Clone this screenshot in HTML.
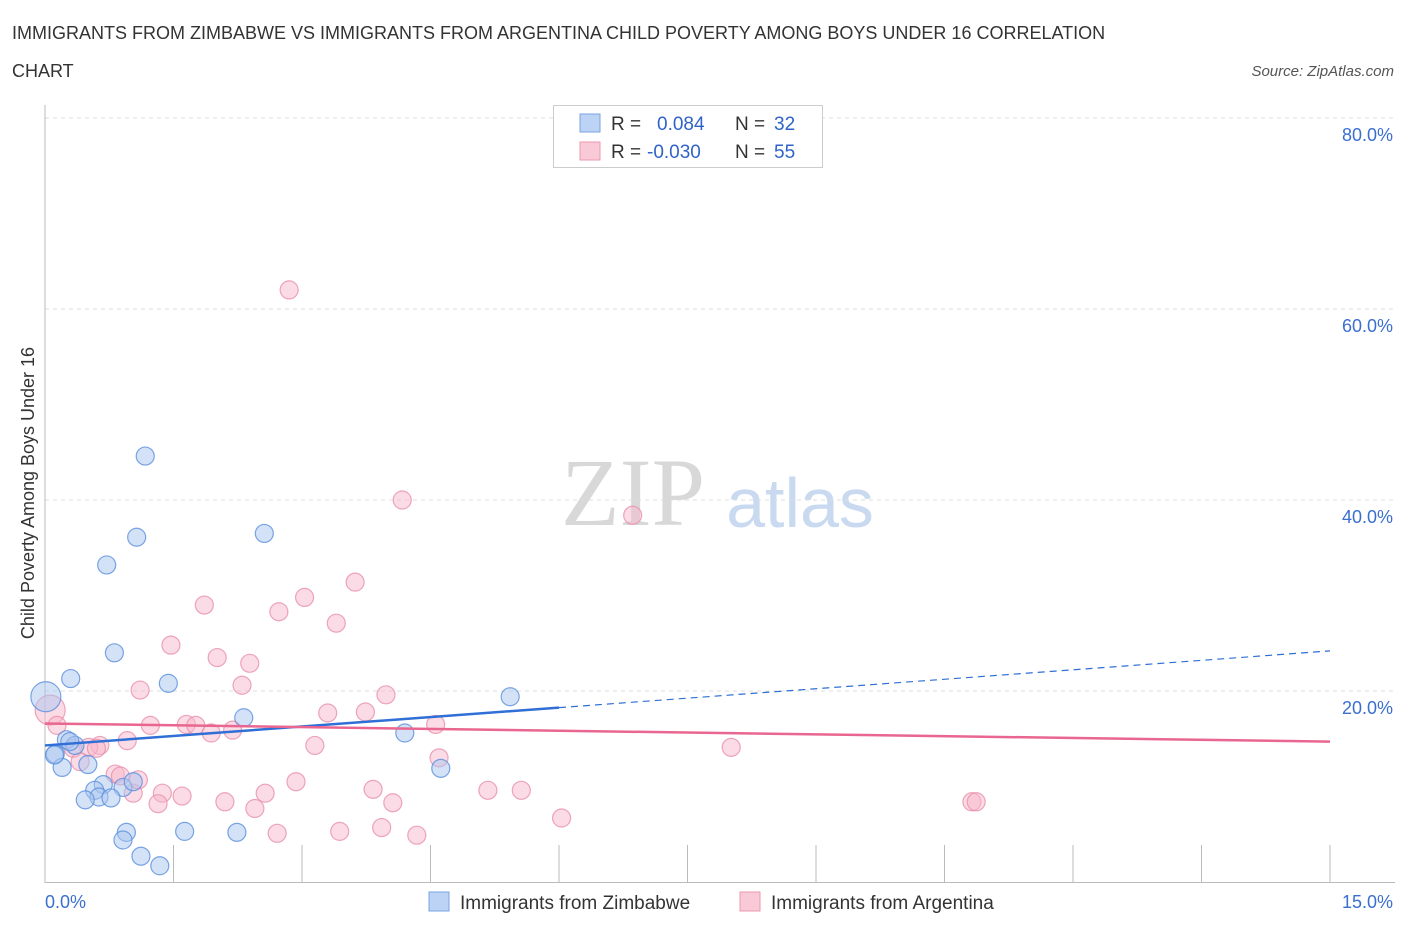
<!DOCTYPE html>
<html><head><meta charset="utf-8"><style>
body{margin:0;background:#fff;font-family:"Liberation Sans",sans-serif;}
svg text{font-family:"Liberation Sans",sans-serif;}
</style></head><body>
<svg id="chart" width="1406" height="930">
<text x="12" y="39" font-size="18" fill="#333">IMMIGRANTS FROM ZIMBABWE VS IMMIGRANTS FROM ARGENTINA CHILD POVERTY AMONG BOYS UNDER 16 CORRELATION</text>
<text x="12" y="77" font-size="18" fill="#333">CHART</text>
<text x="1394" y="76" font-size="15" fill="#555" font-style="italic" text-anchor="end">Source: ZipAtlas.com</text>
<text x="633" y="525" font-size="96" fill="#d8d8d8" font-family="Liberation Serif" text-anchor="middle" style="font-family:'Liberation Serif',serif">ZIP</text>
<text x="800" y="527" font-size="70" fill="#c9daf0" text-anchor="middle">atlas</text>
<g id="grid"></g>
<g id="marks"></g>
<text transform="translate(34,493) rotate(-90)" font-size="18" fill="#333" text-anchor="middle">Child Poverty Among Boys Under 16</text>
<text x="45" y="908" font-size="18" fill="#3a6fd0">0.0%</text>
<text x="1393" y="908" font-size="18" fill="#3a6fd0" text-anchor="end">15.0%</text>
<g>
<rect x="553.5" y="105.5" width="269" height="62" fill="#fff" stroke="#ccc"/>
<rect x="580" y="114" width="20" height="18" fill="#bcd3f5" stroke="#7aa3e0"/>
<rect x="580" y="142" width="20" height="18" fill="#f9c9d7" stroke="#ea9ab2"/>
<text x="611" y="130" font-size="19" fill="#333">R = </text><text x="657" y="130" font-size="19" fill="#2f63c8">0.084</text>
<text x="735" y="130" font-size="19" fill="#333">N = </text><text x="774" y="130" font-size="19" fill="#2f63c8">32</text>
<text x="611" y="158" font-size="19" fill="#333">R = </text><text x="647" y="158" font-size="19" fill="#2f63c8">-0.030</text>
<text x="735" y="158" font-size="19" fill="#333">N = </text><text x="774" y="158" font-size="19" fill="#2f63c8">55</text>
</g>
<g>
<rect x="429" y="892" width="20" height="19" fill="#bcd3f5" stroke="#7aa3e0"/>
<text x="460" y="909" font-size="19" fill="#333">Immigrants from Zimbabwe</text>
<rect x="740" y="892" width="20" height="19" fill="#f9c9d7" stroke="#ea9ab2"/>
<text x="771" y="909" font-size="19" fill="#333">Immigrants from Argentina</text>
</g>
</svg>
<script>
const yTicks=[20,40,60,80];
const yTickLabels=["20.0%","40.0%","60.0%","80.0%"];
const blueX=[0.01,1.17,1.07,0.72,2.56,0.81,0.30,1.44,5.43,2.32,4.20,0.25,0.35,0.12,0.50,0.20,0.91,1.03,0.68,0.58,0.63,0.77,0.47,4.62,0.95,1.63,2.24,0.91,1.12,1.34,0.11,0.29];
const blueY=[19.4,44.6,36.1,33.2,36.5,24.0,21.3,20.8,19.4,17.2,15.6,14.9,14.3,13.4,12.3,12.0,9.9,10.5,10.2,9.6,8.9,8.8,8.6,11.9,5.2,5.3,5.2,4.4,2.7,1.7,13.3,14.7];
const pinkX=[2.85,4.17,6.86,3.62,3.03,1.86,2.73,3.40,1.47,2.01,2.39,1.11,2.30,3.98,0.06,0.14,1.23,1.65,1.76,1.94,2.19,3.30,3.74,4.56,3.15,0.96,0.64,0.51,0.33,0.41,0.82,0.88,1.03,1.37,1.60,1.32,2.10,2.57,2.45,2.93,3.83,4.06,4.60,5.17,5.56,2.71,3.44,3.93,4.34,6.03,8.01,10.82,10.87,0.60,1.09];
const pinkY=[62.0,40.0,38.4,31.4,29.8,29.0,28.3,27.1,24.8,23.5,22.9,20.1,20.6,19.6,18.0,16.4,16.4,16.5,16.4,15.6,15.9,17.7,17.8,16.5,14.3,14.8,14.3,14.1,14.0,12.6,11.3,11.1,9.3,9.3,9.0,8.2,8.4,9.3,7.7,10.5,9.7,8.3,13.0,9.6,9.6,5.1,5.3,5.7,4.9,6.7,14.1,8.4,8.4,14.0,10.7];
const blueTrend=[14.3,24.2];
const pinkTrend=[16.6,14.7];
const NS="http://www.w3.org/2000/svg";
const xs=v=>45+v/15*1285;
const ys=v=>882-v*9.55;
function mk(tag,attrs,parent){const e=document.createElementNS(NS,tag);for(const k in attrs)e.setAttribute(k,attrs[k]);parent.appendChild(e);return e;}
const grid=document.getElementById('grid'),marks=document.getElementById('marks');
yTicks.forEach((t,i)=>{
 const l=mk('line',{x1:45,x2:1395,y1:ys(t),y2:ys(t),stroke:'#ddd','stroke-dasharray':'4,4'},grid);
 
 
 const tx=mk('text',{x:1393,y:ys(t)+23,'font-size':18,fill:'#3a6fd0','text-anchor':'end'},grid);
 tx.textContent=yTickLabels[i];
 
 
});
const ax=mk('line',{x1:45,x2:45,y1:105,y2:883,stroke:'#bbb'},grid);


const bx=mk('line',{x1:45,x2:1395,y1:882.5,y2:882.5,stroke:'#bbb'},grid);


for(let i=1;i<=10;i++){const t=mk('line',{x1:xs(i*1.5),x2:xs(i*1.5),y1:845,y2:882,stroke:'#bbb'},grid);
 
 }
function pts(X,Y,fill,stroke,name){X.forEach((x,i)=>{
 const big=(x<0.1);
 const c=mk('circle',{cx:xs(x),cy:ys(Y[i]),r:big?15:9,fill:fill,'fill-opacity':0.5,stroke:stroke,'stroke-width':1.2,'stroke-opacity':0.8},marks);
 
 
});}
pts(pinkX,pinkY,'#f7b8cb','#e890ab','argentina-point');
pts(blueX,blueY,'#a9c6f0','#5a8fdc','zimbabwe-point');
const bt=v=>blueTrend[0]+(blueTrend[1]-blueTrend[0])*v/15;
const b1=mk('line',{x1:xs(0),y1:ys(bt(0)),x2:xs(6),y2:ys(bt(6)),stroke:'#2f6fd6','stroke-width':2.5},marks);


const b2=mk('line',{x1:xs(6),y1:ys(bt(6)),x2:xs(15),y2:ys(bt(15)),stroke:'#2f6fd6','stroke-width':1.2,'stroke-dasharray':'7,5'},marks);


const p1=mk('line',{x1:xs(0),y1:ys(pinkTrend[0]),x2:xs(15),y2:ys(pinkTrend[1]),stroke:'#e8668f','stroke-width':2.5},marks);


</script>
</body></html>
